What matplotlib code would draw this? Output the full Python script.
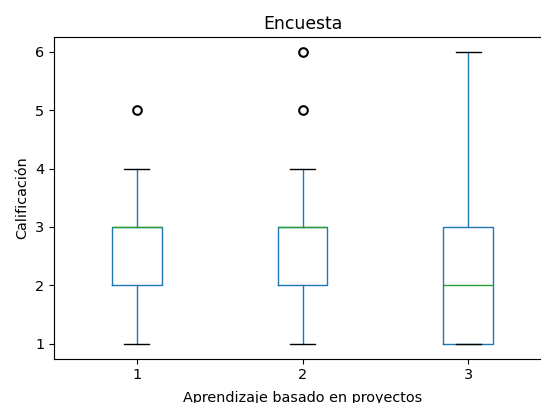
import matplotlib
matplotlib.use("Agg")
import matplotlib.pyplot as plt

# survey answers per group
labels = ["1", "2", "3"]
grupo1 = [1, 2, 2, 2, 3, 3, 3, 3, 4, 5]
grupo2 = [1, 2, 2, 2, 2, 3, 3, 3, 3, 3, 4, 5, 6]
grupo3 = [1, 1, 1, 1, 2, 2, 3, 3, 3, 6]

s = 1.035  # the reference is a slightly enlarged, cropped screenshot
plt.rcParams.update({
    "font.size": 10 * s,
    "axes.titlesize": 12 * s,
    "lines.linewidth": 1.1 * s,
    "axes.linewidth": 0.8 * s,
    "xtick.major.size": 3.5 * s,
    "ytick.major.size": 3.5 * s,
})

fig = plt.figure(figsize=(5.41, 4.03), dpi=100)
# right spine falls just outside the picture, as in the reference
ax = fig.add_axes([0.0998, 0.1104, 0.9187, 0.7978])

ax.boxplot(
    [grupo1, grupo2, grupo3],
    tick_labels=labels,
    boxprops=dict(color="#1f77b4"),
    whiskerprops=dict(color="#1f77b4"),
    medianprops=dict(color="#2ca02c"),
    capprops=dict(color="black"),
    flierprops=dict(marker="o", markeredgecolor="black", markerfacecolor="none",
                    markeredgewidth=1.5, markersize=6 * s),
)

ax.set_title("Encuesta")
ax.set_ylabel("Calificación")
ax.set_xlabel("Aprendizaje basado en proyectos", labelpad=6)

fig.savefig("out.png", dpi=100)
